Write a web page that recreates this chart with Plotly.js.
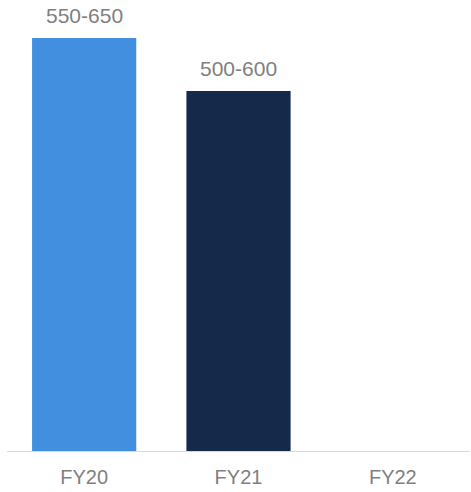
<!DOCTYPE html>
<html><head><meta charset="utf-8">
<script src="https://cdn.plot.ly/plotly-3.0.1.min.js"></script>
<style>html,body{margin:0;padding:0;background:#fff}#c{width:471px;height:492px}</style>
</head><body><div id="c"></div>
<script>
const categories = ["FY20", "FY21", "FY22"];
const values = [600, 523, null];
const labels = ["550-650", "500-600", ""];
const colors = ["#418FDE", "#15294B", "#15294B"];

const font = {family: "Liberation Sans, Arial", size: 21, color: "#7F7F7F"};
const annotations = categories.map((c, i) => labels[i] ? {
  x: c, y: values[i], xref: "x", yref: "y", text: labels[i], showarrow: false,
  yanchor: "bottom", yshift: 9, font: font
} : null).filter(a => a);

Plotly.newPlot("c", [{
  type: "bar", x: categories, y: values,
  marker: {color: colors}, hoverinfo: "none"
}], {
  width: 471, height: 492,
  margin: {l: 7, r: 1, t: 38, b: 41},
  bargap: 0.325,
  paper_bgcolor: "#fff", plot_bgcolor: "#fff",
  showlegend: false,
  annotations: annotations,
  xaxis: {showline: true, linecolor: "#D9D9D9", linewidth: 1, ticks: "", showgrid: false,
    ticklabelstandoff: 8, tickfont: {family: "Liberation Sans, Arial", size: 20, color: "#7F7F7F"}, fixedrange: true},
  yaxis: {range: [0, 600], visible: false, showgrid: false, zeroline: false, fixedrange: true}
}, {staticPlot: true});
</script></body></html>
